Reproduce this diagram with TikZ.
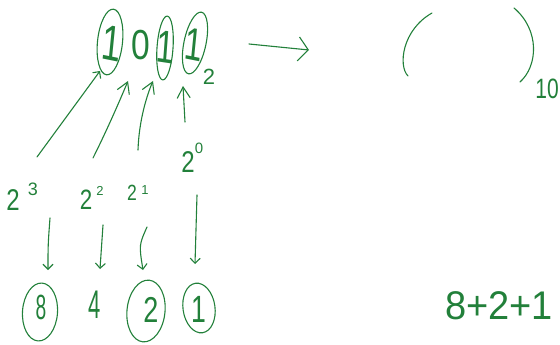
\documentclass[tikz,border=0pt]{standalone}
\usepackage{fontspec}
\setmainfont{Liberation Sans}
\usetikzlibrary{shapes.geometric,arrows.meta}
\definecolor{ink}{RGB}{34,128,58}
\newcommand{\fs}[1]{\fontsize{#1}{#1}\selectfont}
\begin{document}
\begin{tikzpicture}[x=1pt,y=-1pt,line width=1.1pt,color=ink,line cap=round,line join=round,
  ring/.style={draw=ink,ellipse,inner sep=0pt,line width=1.1pt},
  txt/.style={text=ink,inner sep=0pt},
  barb/.style={-{Straight Barb[length=11pt,width=13pt]}},
  smallbarb/.style={-{Straight Barb[length=5pt,width=10pt]}}]
\useasboundingbox (0,0) rectangle (560,345);
% top binary number
\node[ring,minimum width=25pt,minimum height=66pt,rotate=-6] (r3) at (110,42) {};
\node[txt,font=\fs{50},xscale=0.7,rotate=-8] (b3) at (112,43) {1};
\node[txt,font=\fs{42},xscale=0.8] (b2) at (141,45) {0};
\node[ring,minimum width=16pt,minimum height=64pt,rotate=-4] (r1) at (165,48) {};
\node[txt,font=\fs{46},xscale=0.7,rotate=-6] (b1) at (166,47) {1};
\node[ring,minimum width=22pt,minimum height=63pt,rotate=-12] (r0) at (195,43) {};
\node[txt,font=\fs{46},xscale=0.7,rotate=-8] (b0) at (194,45) {1};
\node[txt,font=\fs{22}] (sub2) at (209,77) {2};
% powers
\node[txt,font=\fs{30},xscale=0.8] (l3) at (13,200) {2};
\node[txt,font=\fs{18}] (l3e) at (33,189) {3};
\node[txt,font=\fs{28},xscale=0.8] (l2) at (86,200) {2};
\node[txt,font=\fs{13}] (l2e) at (100,191) {2};
\node[txt,font=\fs{22},xscale=0.8] (l1) at (132,193) {2};
\node[txt,font=\fs{13}] (l1e) at (145,190) {1};
\node[txt,font=\fs{30},xscale=0.8] (l0) at (188,162) {2};
\node[txt,font=\fs{15}] (l0e) at (199,148) {0};
% up connectors
\coordinate (u3a) at (37,157); \coordinate (u3b) at (100,71);
\coordinate (u2a) at (93,158); \coordinate (u2b) at (128,81);
\coordinate (u1a) at (138,150); \coordinate (u1b) at (153,81);
\coordinate (u0a) at (185,122); \coordinate (u0b) at (183,86);
\draw[smallbarb] (u3a) -- (u3b);
\draw[barb] (u2a) .. controls (108,128) and (120,100) .. (u2b);
\draw[barb] (u1a) .. controls (139,120) and (147,95) .. (u1b);
\draw[barb] (u0a) -- (u0b);
% down connectors
\coordinate (d3a) at (50,218); \coordinate (d3b) at (48,270);
\coordinate (d2a) at (103,225); \coordinate (d2b) at (100,269);
\coordinate (d1a) at (147,227); \coordinate (d1b) at (143,270);
\coordinate (d0a) at (197,195); \coordinate (d0b) at (195,264);
\draw[smallbarb] (d3a) .. controls (48,245) .. (d3b);
\draw[smallbarb] (d2a) -- (d2b);
\draw[smallbarb] (d1a) .. controls (139,245) .. (d1b);
\draw[smallbarb] (d0a) -- (d0b);
% bottom values
\node[ring,minimum width=35pt,minimum height=58pt,rotate=-4] (c8) at (40,312) {};
\node[txt,font=\fs{35},xscale=0.55] (v8) at (41,307) {8};
\node[txt,font=\fs{40},xscale=0.55] (v4) at (95,305) {4};
\node[ring,minimum width=38pt,minimum height=62pt,rotate=-6] (c2) at (146,311) {};
\node[txt,font=\fs{36},xscale=0.75] (v2) at (151,310) {2};
\node[ring,minimum width=32pt,minimum height=50pt,rotate=8] (c1) at (199,308) {};
\node[txt,font=\fs{38},xscale=0.7] (v1) at (199,309) {1};
% arrow to decimal
\coordinate (ta) at (249,44); \coordinate (tb) at (309,50);
\draw[-{Straight Barb[length=10pt,width=24pt]}] (ta) -- (tb);
% parentheses
\draw (432,13) .. controls (402,30) and (398,66) .. (408,76);
\draw (514,8) .. controls (540,30) and (538,66) .. (520,82);
\node[txt,font=\fs{28},xscale=0.75] (dec) at (547,89) {10};
% sum
\node[txt,font=\fs{40},xscale=0.95] (sum) at (499,306) {8+2+1};
\end{tikzpicture}
\end{document}
